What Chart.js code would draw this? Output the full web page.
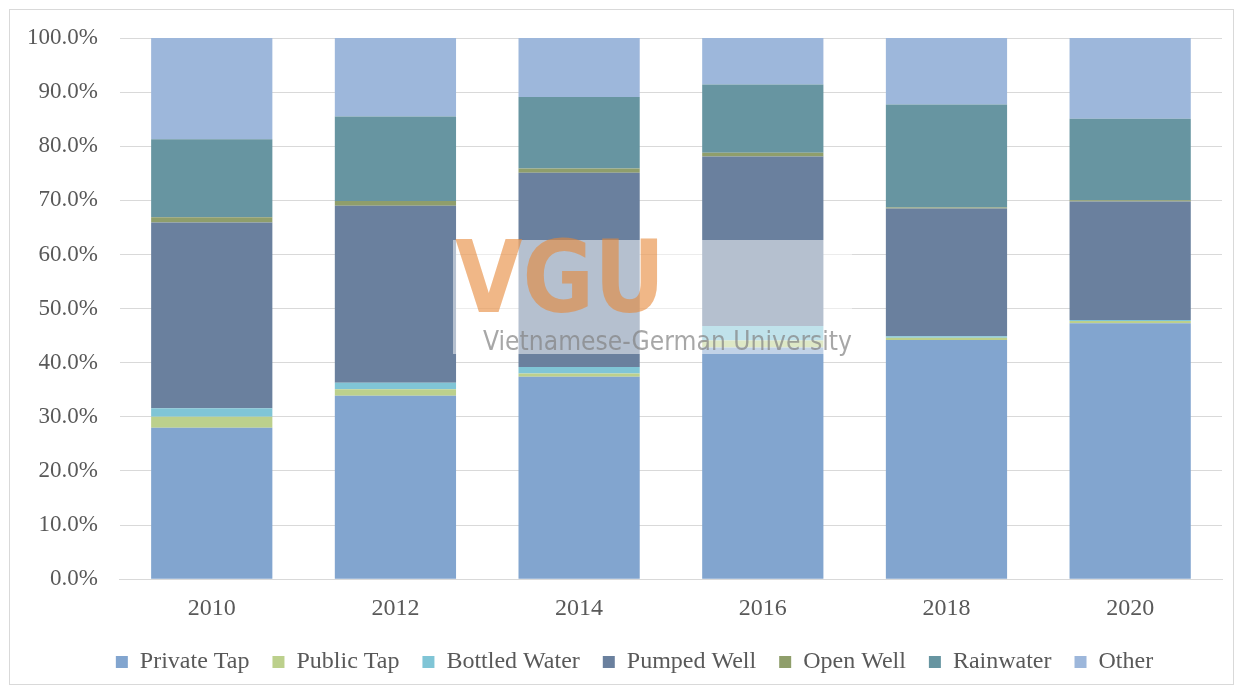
<!DOCTYPE html>
<html>
<head>
<meta charset="utf-8">
<script src="https://cdn.jsdelivr.net/npm/chart.js@4/dist/chart.umd.min.js"></script>
<style>
  html, body { margin: 0; padding: 0; background: #fff; }
  #wrap { width: 1242px; height: 691px; position: relative; }
</style>
</head>
<body>
<div id="wrap"><canvas id="c" width="1242" height="691"></canvas></div>
<script>
const categories = ['2010', '2012', '2014', '2016', '2018', '2020'];
const privateTap   = [28.0, 33.9, 37.4, 42.8, 44.2, 47.3];
const publicTap    = [2.0, 1.2, 0.6, 1.3, 0.4, 0.4];
const bottledWater = [1.6, 1.2, 1.2, 2.7, 0.3, 0.2];
const pumpedWell   = [34.3, 32.7, 35.9, 31.3, 23.6, 21.9];
const openWell     = [1.0, 0.9, 0.8, 0.7, 0.2, 0.2];
const rainwater    = [14.4, 15.6, 13.2, 12.6, 19.0, 15.1];
const other        = [18.7, 14.5, 10.9, 8.6, 12.3, 14.9];
const yTicks = [0, 10, 20, 30, 40, 50, 60, 70, 80, 90, 100];

const seriesNames = ['Private Tap', 'Public Tap', 'Bottled Water', 'Pumped Well', 'Open Well', 'Rainwater', 'Other'];
const seriesData = [privateTap, publicTap, bottledWater, pumpedWell, openWell, rainwater, other];
const seriesColors = ['#82A5CF', '#BCD08C', '#80C5D6', '#6A809E', '#8F9E6B', '#6795A1', '#9DB7DB'];

const FONT = '"Liberation Serif", "Times New Roman", serif';
const TXT = '#595959';

const decor = {
  id: 'decor',
  afterLayout(chart) {
    const lg = chart.legend;
    if (lg) { lg.left += 21; lg.right += 21; }
  },
  beforeDraw(chart) {
    const ctx = chart.ctx;
    ctx.save();
    ctx.fillStyle = '#ffffff';
    ctx.fillRect(0, 0, chart.width, chart.height);
    ctx.restore();
  },
  afterDraw(chart) {
    const ctx = chart.ctx;
    ctx.save();
    // outer border
    ctx.strokeStyle = '#D9D9D9';
    ctx.lineWidth = 1;
    ctx.strokeRect(9.5, 9.5, 1224, 675);
    // watermark
    ctx.fillStyle = 'rgba(255,255,255,0.5)';
    ctx.fillRect(453, 240, 399, 114);
    ctx.fillStyle = 'rgba(230,135,55,0.6)';
    ctx.font = 'bold 100px "DejaVu Sans", sans-serif';
    ctx.textBaseline = 'alphabetic';
    ctx.textAlign = 'left';
    ctx.save();
    ctx.translate(455, 312);
    const wv = ctx.measureText('VGU').width;
    ctx.scale(210 / wv, 1);
    ctx.fillText('VGU', 0, 0);
    ctx.restore();
    ctx.fillStyle = 'rgba(130,130,130,0.7)';
    ctx.font = '27px "DejaVu Sans", sans-serif';
    ctx.save();
    ctx.translate(483, 350);
    const wt = ctx.measureText('Vietnamese-German University').width;
    ctx.scale(369 / wt, 1);
    ctx.fillText('Vietnamese-German University', 0, 0);
    ctx.restore();
    ctx.restore();
  }
};

new Chart(document.getElementById('c'), {
  type: 'bar',
  data: {
    labels: categories,
    datasets: seriesNames.map((n, i) => ({
      label: n,
      data: seriesData[i],
      backgroundColor: seriesColors[i],
      borderWidth: 0,
      categoryPercentage: 0.66,
      barPercentage: 1.0
    }))
  },
  options: {
    responsive: false,
    animation: false,
    devicePixelRatio: 1,
    layout: { padding: { left: 5, right: 20, top: 38, bottom: 7 } },
    plugins: {
      legend: {
        position: 'bottom',
        labels: {
          boxWidth: 12, boxHeight: 12, padding: 23,
          color: TXT,
          font: { family: FONT, size: 24 }
        }
      },
      tooltip: { enabled: false }
    },
    scales: {
      x: {
        stacked: true,
        grid: { display: false, drawTicks: false },
        border: { display: true, color: '#D9D9D9', width: 1 },
        ticks: { color: TXT, font: { family: FONT, size: 24 }, padding: 15 },
        afterFit(scale) { scale.height = scale.height - 11; }
      },
      y: {
        stacked: true,
        min: 0, max: 100,
        afterBuildTicks(scale) { scale.ticks = yTicks.map(v => ({ value: v })); },
        grid: { color: '#D9D9D9', drawTicks: false },
        border: { display: false },
        ticks: {
          color: TXT, font: { family: FONT, size: 23 }, padding: 22,
          callback: v => v.toFixed(1) + '%'
        }
      }
    }
  },
  plugins: [decor]
});
</script>
</body>
</html>
